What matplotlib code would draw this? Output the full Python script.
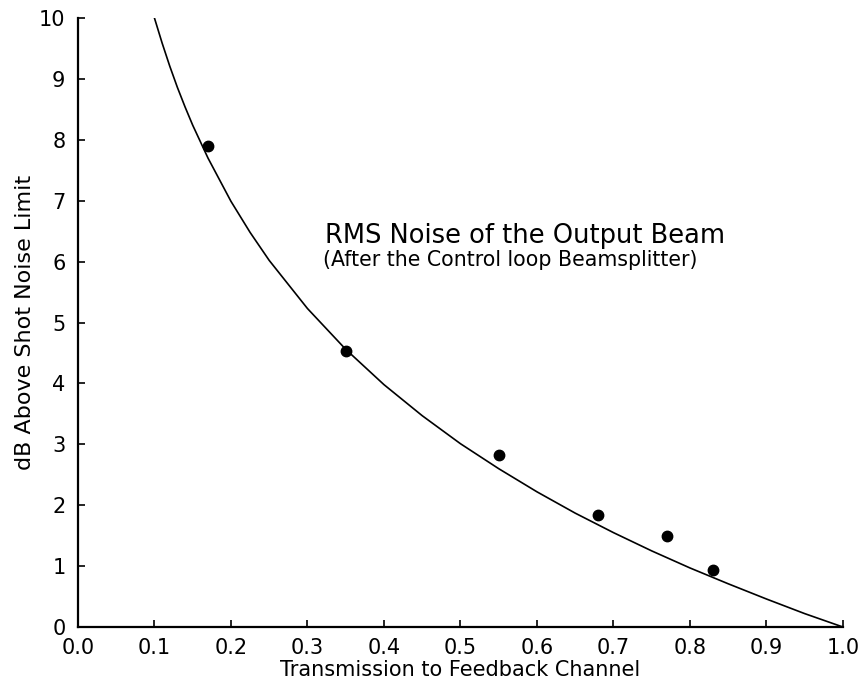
import matplotlib
matplotlib.use("Agg")
import matplotlib.pyplot as plt

# Measured data points
meas_T = [0.17, 0.35, 0.55, 0.68, 0.77, 0.83]
meas_dB = [7.90, 4.53, 2.82, 1.84, 1.49, 0.94]

# Theory curve
curve_T = [0.10, 0.11, 0.12, 0.13, 0.14, 0.15, 0.17, 0.20, 0.225, 0.25, 0.30, 0.35,
           0.40, 0.45, 0.50, 0.55, 0.60, 0.65, 0.70, 0.75, 0.80, 0.85, 0.90, 0.95, 1.00]
curve_dB = [10.0, 9.59, 9.21, 8.86, 8.54, 8.24, 7.70, 6.99, 6.48, 6.02, 5.23, 4.56,
            3.98, 3.47, 3.01, 2.60, 2.22, 1.87, 1.55, 1.25, 0.97, 0.71, 0.46, 0.22, 0.0]

x_ticks = [0.0, 0.1, 0.2, 0.3, 0.4, 0.5, 0.6, 0.7, 0.8, 0.9, 1.0]
y_ticks = [0, 1, 2, 3, 4, 5, 6, 7, 8, 9, 10]

plt.rcParams['font.family'] = ['DejaVu Sans']

fig = plt.figure(figsize=(8.66, 6.84), dpi=100)
ax = fig.add_axes([0.090, 0.0833, 0.8834, 0.8904])

ax.plot(curve_T, curve_dB, color='black', lw=1.2)
ax.plot(meas_T, meas_dB, 'o', color='black', markersize=7.5)

ax.set_xlim(0.0, 1.0)
ax.set_ylim(0, 10)
ax.set_xticks(x_ticks)
ax.set_xticklabels([f"{v:.1f}" for v in x_ticks])
ax.set_yticks(y_ticks)
ax.set_yticklabels([str(v) for v in y_ticks])

for s in ['top', 'right']:
    ax.spines[s].set_visible(False)
for s in ['left', 'bottom']:
    ax.spines[s].set_linewidth(1.6)

ax.tick_params(axis='both', direction='in', length=5, width=1.2, labelsize=15)
ax.tick_params(axis='x', pad=8)
ax.tick_params(axis='y', pad=9)

ax.set_xlabel("Transmission to Feedback Channel", fontsize=15, labelpad=1)
ax.set_ylabel("dB Above Shot Noise Limit", fontsize=16, labelpad=3)

ax.text(0.323, 6.31, "RMS Noise of the Output Beam", fontsize=18.5, va='baseline')
ax.text(0.320, 5.93, "(After the Control loop Beamsplitter)", fontsize=14.8, va='baseline')

fig.savefig("out.png", dpi=100)
